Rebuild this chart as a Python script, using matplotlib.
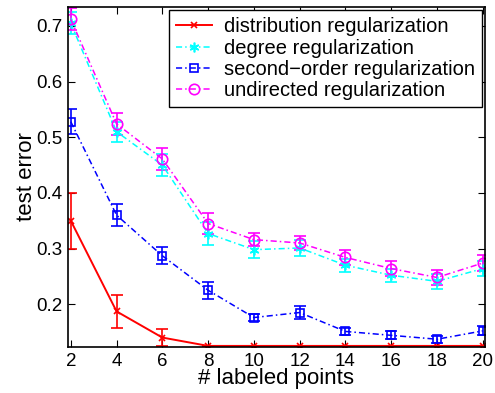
import matplotlib
matplotlib.use('Agg')
import matplotlib.pyplot as plt
import numpy as np

plt.rcParams['font.family'] = ['Liberation Sans', 'DejaVu Sans']

x = [2, 4, 6, 8, 10, 12, 14, 16, 18, 20]

dist = [0.350, 0.187, 0.140, 0.125, 0.125, 0.125, 0.125, 0.125, 0.125, 0.125]
dist_err = [0.050, 0.029, 0.015, 0.0, 0.0, 0.0, 0.0, 0.0, 0.0, 0.0]

degree = [0.705, 0.510, 0.450, 0.327, 0.298, 0.301, 0.270, 0.252, 0.241, 0.264]
degree_err = [0.020, 0.018, 0.020, 0.020, 0.015, 0.015, 0.012, 0.012, 0.013, 0.013]

second = [0.528, 0.360, 0.287, 0.225, 0.176, 0.185, 0.151, 0.144, 0.137, 0.152]
second_err = [0.022, 0.020, 0.015, 0.015, 0.006, 0.012, 0.007, 0.007, 0.006, 0.008]

undirected = [0.712, 0.524, 0.461, 0.345, 0.316, 0.310, 0.284, 0.264, 0.248, 0.274]
undirected_err = [0.020, 0.020, 0.020, 0.018, 0.012, 0.012, 0.014, 0.014, 0.013, 0.014]

labels = ['distribution regularization', 'degree regularization',
          'second\u2212order regularization', 'undirected regularization']

fig = plt.figure(figsize=(4.95, 3.93), dpi=100)
ax = fig.add_axes([0.137, 0.117, 0.843, 0.865])

dashdot = (0, (4, 2, 1, 2))
c1 = ax.errorbar(x, dist, yerr=dist_err, color='red', ls='-', marker='x', ms=5,
                 mew=1.2, capsize=4, lw=1.4, elinewidth=1.2)
c2 = ax.errorbar(x, degree, yerr=degree_err, color='cyan', ls=dashdot, marker=(6, 2, 0),
                 ms=7, mew=1.2, capsize=4, lw=1.1, elinewidth=1.2)
c3 = ax.errorbar(x, second, yerr=second_err, color='blue', ls=dashdot, marker='s', ms=6,
                 mfc='none', mew=1.2, capsize=4, lw=1.1, elinewidth=1.2)
c4 = ax.errorbar(x, undirected, yerr=undirected_err, color='magenta', ls=dashdot,
                 marker='o', ms=7.5, mfc='none', mew=1.2, capsize=4, lw=1.1,
                 elinewidth=1.2)

ax.set_xlim(1.87, 20.1)
ax.set_ylim(0.123, 0.734)
ax.set_xticks(x)
ax.set_yticks([0.2, 0.3, 0.4, 0.5, 0.6, 0.7])
ax.set_yticklabels(['0.2', '0.3', '0.4', '0.5', '0.6', '0.7'])
ax.tick_params(direction='in', top=True, right=True, labelsize=13.5, length=5, pad=4)
ax.set_xlabel('# labeled points', fontsize=16, labelpad=-1)
ax.set_ylabel('test error', fontsize=16, labelpad=-1)
for s in ax.spines.values():
    s.set_linewidth(1.2)

leg = ax.legend([c1[0], c2[0], c3[0], c4[0]], labels, loc='upper right',
                fontsize=14.5, fancybox=False, framealpha=1, edgecolor='black',
                borderpad=0.35, labelspacing=0.12, handlelength=1.8,
                handletextpad=0.6, borderaxespad=0.15)
leg.get_frame().set_linewidth(1.0)

fig.savefig('out.png', dpi=100)
